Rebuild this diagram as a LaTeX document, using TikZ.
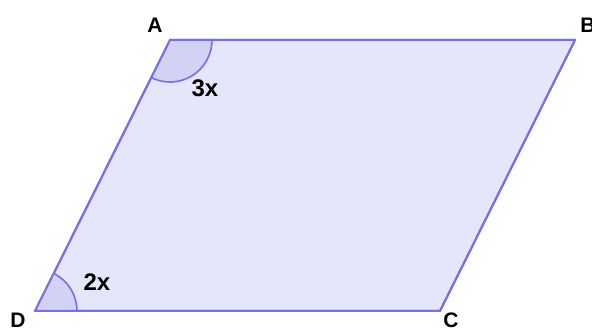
\documentclass[tikz,border=0pt]{standalone}
\usepackage{fontspec}
\setmainfont{Liberation Sans}
\usetikzlibrary{angles}
\definecolor{edgeblue}{RGB}{120,110,235}
\definecolor{facefill}{RGB}{230,230,250}
\definecolor{anglefill}{RGB}{210,210,245}
\tikzset{
  vlabel/.style={font=\fontsize{21}{21}\selectfont\bfseries, inner sep=0pt, text=black},
  alabel/.style={font=\fontsize{24}{24}\selectfont\bfseries, inner sep=0pt, text=black},
  edge/.style={draw=edgeblue, line width=2pt, line join=round},
  anglemark/.style={draw=edgeblue, fill=anglefill, line width=1.6pt, angle radius=42pt}
}
\begin{document}
\begin{tikzpicture}[x=1pt,y=1pt]
\useasboundingbox (0,0) rectangle (592,329);
\coordinate (A) at (170,289);
\coordinate (B) at (575,289);
\coordinate (C) at (440,18);
\coordinate (D) at (35,18);
\path[edge, fill=facefill] (A) -- (B) -- (C) -- (D) -- cycle;
\pic[anglemark] {angle = D--A--B};
\pic[anglemark] {angle = C--D--A};
\path[edge] (A) -- (B) -- (C) -- (D) -- cycle;
\node[vlabel] (lA) at (155,304) {A};
\node[vlabel] (lB) at (588,304) {B};
\node[vlabel] (lC) at (451,9) {C};
\node[vlabel] (lD) at (18,9) {D};
\node[alabel] (l3x) at (205,241) {3x};
\node[alabel] (l2x) at (97,47) {2x};
\end{tikzpicture}
\end{document}
